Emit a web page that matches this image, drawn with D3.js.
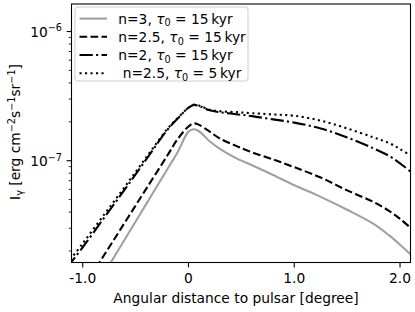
<!DOCTYPE html>
<html>
<head>
<meta charset="utf-8">
<script src="https://cdn.jsdelivr.net/npm/d3@7"></script>
<style>
  body { margin: 0; background: #fff; }
  svg text { font-family: "DejaVu Sans", sans-serif; fill: #000; white-space: pre; }
</style>
</head>
<body>
<svg id="chart"></svg>
<script>
// angular distance to pulsar [degree]
const angle = [-1.15, -1.0, -0.8, -0.6, -0.4, -0.2, -0.1, 0.0, 0.05, 0.1, 0.2, 0.3, 0.45, 0.6, 0.8, 1.0, 1.25, 1.5, 1.75, 1.9, 2.0, 2.1];

// I_gamma [erg cm^-2 s^-1 sr^-1]
const iN3Tau15 = [4.47e-9, 7.08e-9, 1.33e-8, 2.477e-8, 4.613e-8, 8.59e-8, 1.175e-7, 1.679e-7, 1.750e-7, 1.690e-7, 1.413e-7, 1.230e-7, 1.047e-7, 9.23e-8, 7.76e-8, 6.46e-8, 5.25e-8, 4.17e-8, 3.24e-8, 2.63e-8, 2.239e-8, 1.884e-8];
const iN25Tau15 = [6.46e-9, 1.023e-8, 1.845e-8, 3.342e-8, 6.053e-8, 1.096e-7, 1.479e-7, 1.841e-7, 1.945e-7, 1.895e-7, 1.679e-7, 1.479e-7, 1.303e-7, 1.161e-7, 1.023e-7, 8.91e-8, 7.41e-8, 5.89e-8, 4.79e-8, 4.07e-8, 3.548e-8, 3.02e-8];
const iN2Tau15 = [1.479e-8, 2.138e-8, 3.589e-8, 6.026e-8, 1.023e-7, 1.730e-7, 2.128e-7, 2.570e-7, 2.704e-7, 2.655e-7, 2.455e-7, 2.371e-7, 2.291e-7, 2.213e-7, 2.089e-7, 1.972e-7, 1.778e-7, 1.514e-7, 1.245e-7, 1.084e-7, 9.55e-8, 8.22e-8];
const iN25Tau5 = [1.585e-8, 2.29e-8, 3.80e-8, 6.31e-8, 1.059e-7, 1.758e-7, 2.148e-7, 2.570e-7, 2.704e-7, 2.670e-7, 2.483e-7, 2.415e-7, 2.377e-7, 2.333e-7, 2.280e-7, 2.228e-7, 2.042e-7, 1.778e-7, 1.514e-7, 1.365e-7, 1.230e-7, 1.096e-7];

const xTicks = [-1, 0, 1, 2];
const xTickLabels = ['-1.0', '0', '1.0', '2.0'];
const yMajorTicks = [1e-7, 1e-6];
const yTickExponents = ['\u22127', '\u22126'];

const legendN = ['n=3, ', 'n=2.5, ', 'n=2, ', ' n=2.5, '];
const legendTau = ['15', '15', '15', '5'];

const width = 415;
const height = 312;
const fs = 13.8;

const svg = d3.select('#chart')
    .attr('width', width)
    .attr('height', height);

const plot = { left: 71.5, right: 410.5, top: 4, bottom: 262.5 };

const x = d3.scaleLinear()
    .domain([-1.106, 2.099])
    .range([plot.left, plot.right]);

const y = d3.scaleLog()
    .domain([Math.pow(10, -7.788), Math.pow(10, -5.787)])
    .range([plot.bottom, plot.top]);

const series = [
    { values: iN3Tau15, color: '#a0a0a0', dash: null },
    { values: iN25Tau15, color: '#000', dash: '7.7,3.3' },
    { values: iN2Tau15, color: '#000', dash: '13.3,3.3,2.1,3.3' },
    { values: iN25Tau5, color: '#000', dash: '2.1,3.4' }
];

svg.append('defs').append('clipPath')
    .attr('id', 'clip')
    .append('rect')
    .attr('x', plot.left)
    .attr('y', plot.top)
    .attr('width', plot.right - plot.left)
    .attr('height', plot.bottom - plot.top);

const line = d3.line()
    .x((d, i) => x(angle[i]))
    .y(d => y(d))
    .curve(d3.curveCatmullRom.alpha(0.5));

svg.append('g')
    .attr('clip-path', 'url(#clip)')
    .selectAll('path')
    .data(series)
    .join('path')
    .attr('d', d => line(d.values))
    .attr('fill', 'none')
    .attr('stroke', d => d.color)
    .attr('stroke-width', 2.1)
    .attr('stroke-dasharray', d => d.dash);

// ticks
const ticks = svg.append('g').attr('stroke', '#000').attr('stroke-width', 1.1);
ticks.selectAll('line.xt')
    .data(xTicks)
    .join('line')
    .attr('class', 'xt')
    .attr('x1', d => x(d)).attr('x2', d => x(d))
    .attr('y1', plot.bottom).attr('y2', plot.bottom + 4.9);

const yMinor = y.ticks().filter(t => !yMajorTicks.some(m => Math.abs(m - t) / m < 1e-6));
ticks.selectAll('line.ym')
    .data(yMinor)
    .join('line')
    .attr('class', 'ym')
    .attr('x1', plot.left - 2.8).attr('x2', plot.left)
    .attr('y1', d => y(d)).attr('y2', d => y(d))
    .attr('stroke-width', 0.8);
ticks.selectAll('line.yM')
    .data(yMajorTicks)
    .join('line')
    .attr('class', 'yM')
    .attr('x1', plot.left - 4.9).attr('x2', plot.left)
    .attr('y1', d => y(d)).attr('y2', d => y(d));

// frame
svg.append('rect')
    .attr('x', plot.left)
    .attr('y', plot.top)
    .attr('width', plot.right - plot.left)
    .attr('height', plot.bottom - plot.top)
    .attr('fill', 'none')
    .attr('stroke', '#000')
    .attr('stroke-width', 1.1);

// tick labels
svg.append('g').selectAll('text')
    .data(xTicks)
    .join('text')
    .attr('x', d => x(d))
    .attr('y', 283.3)
    .attr('text-anchor', 'middle')
    .style('font-size', fs + 'px')
    .text((d, i) => xTickLabels[i]);

const yLabels = svg.append('g').selectAll('text')
    .data(yMajorTicks)
    .join('text')
    .attr('x', 62)
    .attr('y', d => y(d) + 5)
    .attr('text-anchor', 'end')
    .style('font-size', fs + 'px');
yLabels.append('tspan').text('10');
yLabels.append('tspan')
    .attr('dy', -5.2)
    .style('font-size', (fs * 0.7) + 'px')
    .text((d, i) => yTickExponents[i]);

function richText(sel, parts) {
    let cur = 0;
    parts.forEach(p => {
        const shift = p.shift || 0;
        const t = sel.append('tspan')
            .attr('dy', shift - cur)
            .text(p.t);
        if (p.small) t.style('font-size', (fs * 0.7) + 'px');
        if (p.italic) t.style('font-style', 'italic');
        cur = shift;
    });
}

// axis labels
svg.append('text')
    .attr('x', 236)
    .attr('y', 303)
    .attr('text-anchor', 'middle')
    .style('font-size', fs + 'px')
    .text('Angular distance to pulsar [degree]');

const ylab = svg.append('text')
    .attr('transform', 'translate(20,132) rotate(-90)')
    .attr('text-anchor', 'middle')
    .style('font-size', fs + 'px');
richText(ylab, [
    { t: 'I' },
    { t: '\u03b3', small: true, shift: 3.2 },
    { t: ' [erg cm' },
    { t: '\u22122', small: true, shift: -5.5 },
    { t: 's' },
    { t: '\u22121', small: true, shift: -5.5 },
    { t: 'sr' },
    { t: '\u22121', small: true, shift: -5.5 },
    { t: ']' }
]);

// legend
const legend = svg.append('g');
legend.append('rect')
    .attr('x', 75).attr('y', 7)
    .attr('width', 173).attr('height', 74)
    .attr('rx', 2.8)
    .attr('fill', '#fff').attr('fill-opacity', 0.8)
    .attr('stroke', '#cccccc').attr('stroke-width', 1);

const rowY = i => 18.6 + i * 18.2;
legend.selectAll('line')
    .data(series)
    .join('line')
    .attr('x1', 79.5).attr('x2', 107)
    .attr('y1', (d, i) => rowY(i)).attr('y2', (d, i) => rowY(i))
    .attr('stroke', d => d.color)
    .attr('stroke-width', 2.1)
    .attr('stroke-dasharray', d => d.dash);

legendN.forEach((n, i) => {
    const t = legend.append('text')
        .attr('x', 118.3)
        .attr('y', rowY(i) + 5)
        .style('font-size', fs + 'px');
    richText(t, [
        { t: n },
        { t: '\u03c4', italic: true },
        { t: '0', small: true, shift: 2.8 },
        { t: ' = ' + legendTau[i] + '\u2009kyr' }
    ]);
});
</script>
</body>
</html>
